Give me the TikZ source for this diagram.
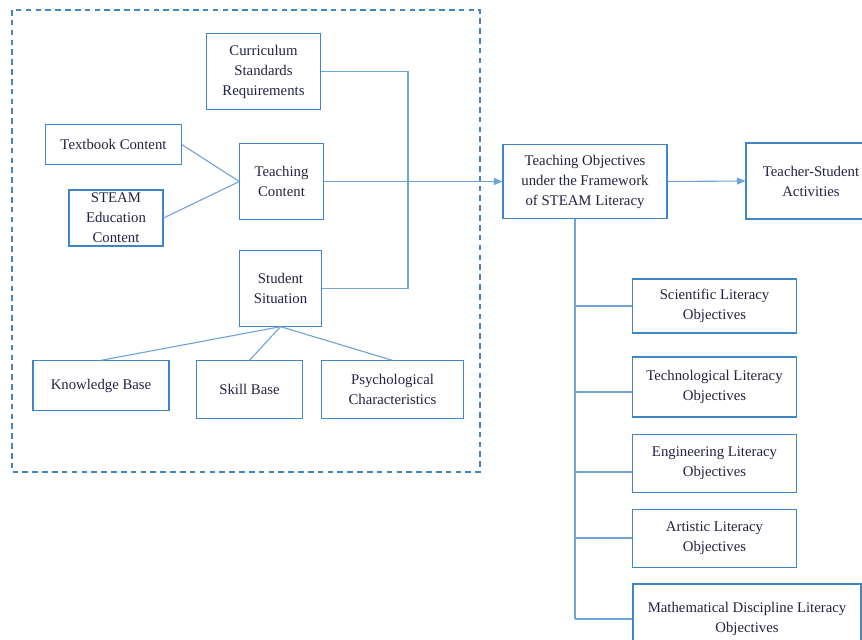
\documentclass[tikz,border=0pt]{standalone}
\usepackage{fontspec}
\setmainfont{Liberation Serif}
\usepackage{tikz}
\usetikzlibrary{arrows.meta,positioning}

\definecolor{boxblue}{RGB}{64,134,198}
\definecolor{lineblue}{RGB}{112,164,218}
\definecolor{inkblue}{RGB}{34,34,68}

\tikzset{
  blk/.style={draw=boxblue,line width=0.8pt,text=inkblue,align=center,inner sep=0pt,
    font=\fontsize{10.5}{14.2}\selectfont},
  conn/.style={draw=lineblue,line width=0.8pt},
  arr/.style={conn,-{Triangle[length=6pt,width=5pt]}}
}

\begin{document}
\begin{tikzpicture}[x=0.025cm,y=-0.025cm]
\useasboundingbox (0,0) rectangle (862,639);
\clip (0,0) rectangle (862,639);
% dashed frame
\draw[boxblue,line width=0.8pt,dash pattern=on 4pt off 3pt] (12,10) rectangle (480,472);
% left part
\node[blk,minimum width=2.83cm,minimum height=1.88cm] (cur) at (263.5,71.5) {Curriculum\\Standards\\Requirements};
\node[blk,minimum width=3.38cm,minimum height=0.98cm] (txt) at (113.5,144.5) {Textbook Content};
\node[blk,minimum width=2.08cm,minimum height=1.88cm] (tcon) at (281.5,181.5) {Teaching\\Content};
\node[blk,minimum width=2.35cm,minimum height=1.4cm] (steam) at (116,218) {STEAM\\Education\\Content};
\node[blk,minimum width=2.03cm,minimum height=1.88cm] (stu) at (280.5,288.5) {Student\\Situation};
\node[blk,minimum width=3.4cm,minimum height=1.23cm] (know) at (101,385.5) {Knowledge Base};
\node[blk,minimum width=2.63cm,minimum height=1.43cm] (skill) at (249.5,389.5) {Skill Base};
\node[blk,minimum width=3.53cm,minimum height=1.43cm] (psy) at (392.5,389.5) {Psychological\\Characteristics};
% right part
\node[blk,minimum width=4.1cm,minimum height=1.83cm] (obj) at (585,181.5) {Teaching Objectives\\under the Framework\\of STEAM Literacy};
\node[blk,minimum width=3.25cm,minimum height=1.9cm] (act) at (811,181) {Teacher-Student\\Activities};
\node[blk,minimum width=4.08cm,minimum height=1.35cm] (sci) at (714.5,306) {Scientific Literacy\\Objectives};
\node[blk,minimum width=4.08cm,minimum height=1.5cm] (tech) at (714.5,387) {Technological Literacy\\Objectives};
\node[blk,minimum width=4.08cm,minimum height=1.43cm] (eng) at (714.5,463.5) {Engineering Literacy\\Objectives};
\node[blk,minimum width=4.08cm,minimum height=1.43cm] (art) at (714.5,538.5) {Artistic Literacy\\Objectives};
\node[blk,minimum width=5.7cm,minimum height=1.75cm] (math) at (747,619) {Mathematical Discipline Literacy\\Objectives};
% connectors
\draw[conn] (txt.east) -- (tcon.west);
\draw[conn] (steam.east) -- (tcon.west);
\coordinate (merge) at (408,181.5);
\draw[conn] (cur.east) -| (merge) |- (stu.east);
\foreach \n in {know,skill,psy}
  \draw[conn] (stu.south) -- (\n.north);
\draw[arr] (tcon.east) -- (obj.west);
\draw[arr] (obj.east) -- (act.west);
\coordinate (trunk) at ([xshift=-0.25cm]obj.south);
\draw[conn] (trunk) -- (trunk |- math.west);
\foreach \n/\y in {sci/306,tech/392,eng/472,art/538,math/619} {
  \coordinate (b-\n) at (trunk |- 0,\y);
  \draw[conn] (b-\n) -- (b-\n -| \n.west);
}
\end{tikzpicture}
\end{document}
